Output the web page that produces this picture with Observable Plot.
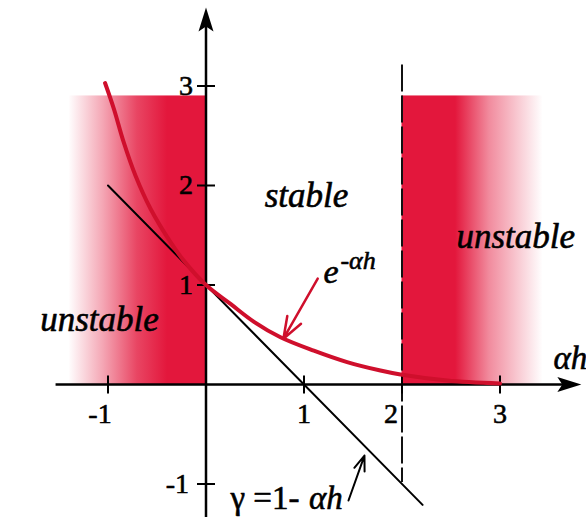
<!DOCTYPE html>
<html>
<head>
<meta charset="utf-8">
<script src="https://cdn.jsdelivr.net/npm/d3@7"></script>
<script src="https://cdn.jsdelivr.net/npm/@observablehq/plot@0.6"></script>
<style>
  html, body { margin: 0; padding: 0; background: #fff; }
  svg { display: block; overflow: visible; }
  svg text { font-family: "Liberation Serif", "Times New Roman", "DejaVu Serif", serif; }
</style>
</head>
<body>
<div id="chart"></div>
<script>
// Amplification factor of the explicit Euler step: exact decay e^{-αh}
// versus the linear factor γ = 1 - αh, with the unstable ranges shaded.

// exact solution curve e^{-αh}
const curveX = [-1.03, -0.94, -0.84, -0.72, -0.566, -0.362, -0.227, 0, 0.25, 0.49, 0.76, 1.1, 1.44, 1.78, 1.985, 2.46, 3.0];
const curveY = [3.03, 2.77, 2.435, 2.10, 1.766, 1.43, 1.245, 1.0, 0.81, 0.63, 0.475, 0.34, 0.225, 0.14, 0.10, 0.04, 0.01];

// straight line γ = 1 - αh
const lineX = [-1, 2.21];
const lineY = [2, -1.21];

// shaded unstable bands (left fades in, right fades out)
const bandX1 = [-1.4, 2];
const bandX2 = [0, 3.44];
const bandTop = [2.9, 2.9];
const bandGradient = ["fadeIn", "fadeOut"];

// stability limit αh = 2
const limitX = [2];
const limitY1 = [3.21];
const limitY2 = [-0.985];

// axis ticks and their labels
const xTicks = [-1, 1, 2, 3];
const xTickLabels = ["-1", "1", "2", "3"];
const yTicks = [-1, 1, 2, 3];
const yTickLabels = ["-1", "1", "2", "3"];

// axis extents
const xAxisFrom = -1.53, xAxisTo = 3.83;
const yAxisFrom = -1.34, yAxisTo = 3.79;

// annotations
const regionLabels = [
  {x: 1.026, y: 1.90, text: "stable"},
  {x: 3.16, y: 1.487, text: "unstable"},
  {x: -1.087, y: 0.653, text: "unstable"}
];

const RED = "#e3173c";
const CURVE = "#cf0f2c";
const SERIF = "'Liberation Serif', 'Times New Roman', 'DejaVu Serif', serif";

const curve = curveX.map((x, i) => ({x, y: curveY[i]}));
const gammaLine = lineX.map((x, i) => ({x, y: lineY[i]}));
const bands = bandX1.map((x1, i) => ({x1, x2: bandX2[i], y1: 0, y2: bandTop[i], g: bandGradient[i]}));
const limits = limitX.map((x, i) => ({x, y1: limitY1[i], y2: limitY2[i]}));
const xTickData = xTicks.map((x, i) => ({x, label: xTickLabels[i]}));
const yTickData = yTicks.map((y, i) => ({y, label: yTickLabels[i]}));

// arrowhead pointing up, tip at the origin
const arrowHead = {
  draw(ctx) {
    ctx.moveTo(0, 0);
    ctx.lineTo(7.5, 24);
    ctx.lineTo(0, 19);
    ctx.lineTo(-7.5, 24);
    ctx.closePath();
  }
};
// short crossing tick
const tickMark = {
  draw(ctx) {
    ctx.moveTo(0, -9);
    ctx.lineTo(0, 9);
  }
};

const W = 586, H = 517;
const x0px = 205.5, xUnit = 98;
const y0px = 384, yUnit = 99.5;

// slightly heavy ink for all lettering
const label = {fontFamily: SERIF, fill: "#000", stroke: "#000", strokeWidth: 0.6};

const plot = Plot.plot({
  width: W,
  height: H,
  margin: 0,
  x: {domain: [-x0px / xUnit, (W - x0px) / xUnit], range: [0, W], axis: null},
  y: {domain: [-(H - y0px) / yUnit, y0px / yUnit], range: [H, 0], axis: null},
  style: {background: "white", overflow: "visible", fontFamily: SERIF},
  marks: [
    // unstable bands
    Plot.rect(bands.filter(d => d.g === "fadeIn"), {x1: "x1", x2: "x2", y1: "y1", y2: "y2", fill: RED, className: "band-in"}),
    Plot.rect(bands.filter(d => d.g === "fadeOut"), {x1: "x1", x2: "x2", y1: "y1", y2: "y2", fill: RED, className: "band-out"}),

    // stability limit
    Plot.ruleX(limits, {x: "x", y1: "y1", y2: "y2", stroke: "#111", strokeWidth: 2, strokeDasharray: "27,4"}),

    // axes
    Plot.ruleY([0], {x1: xAxisFrom, x2: xAxisTo - 0.15, stroke: "#000", strokeWidth: 2.5}),
    Plot.ruleX([0], {y1: yAxisFrom, y2: yAxisTo - 0.15, stroke: "#000", strokeWidth: 2.5}),
    Plot.dot([{x: 0, y: yAxisTo}], {x: "x", y: "y", symbol: arrowHead, fill: "#000", stroke: "none"}),
    Plot.dot([{x: xAxisTo, y: 0}], {x: "x", y: "y", symbol: arrowHead, fill: "#000", stroke: "none", rotate: 90}),

    // ticks
    Plot.dot(xTickData, {x: "x", y: 0, symbol: tickMark, fill: "none", stroke: "#000", strokeWidth: 2}),
    Plot.dot(yTickData, {x: 0, y: "y", symbol: tickMark, fill: "none", stroke: "#000", strokeWidth: 2, rotate: 90}),

    // tick labels
    Plot.text(xTickData.filter(d => d.x === 1 || d.x === 3), {x: "x", y: 0, text: "label", dy: 30, fontSize: 28, ...label}),
    Plot.text(xTickData.filter(d => d.x === 2), {x: "x", y: 0, text: "label", dy: 30, dx: -11, fontSize: 28, ...label}),
    Plot.text(xTickData.filter(d => d.x === -1), {x: "x", y: 0, text: "label", dy: 30, dx: -8, fontSize: 28, ...label}),
    Plot.text(yTickData.filter(d => d.y > 0), {x: 0, y: "y", text: "label", dx: -13, textAnchor: "end", fontSize: 28, ...label}),
    Plot.text(yTickData.filter(d => d.y < 0), {x: 0, y: "y", text: "label", dx: -17, textAnchor: "end", fontSize: 28, ...label}),

    // γ = 1 - αh
    Plot.line(gammaLine, {x: "x", y: "y", stroke: "#000", strokeWidth: 2}),

    // e^{-αh}
    Plot.line(curve, {x: "x", y: "y", stroke: CURVE, strokeWidth: 4, curve: "catmull-rom"}),

    // region labels
    Plot.text(regionLabels, {x: "x", y: "y", text: "text", fontSize: 35, fontStyle: "italic", ...label}),

    // curve label with pointer
    Plot.text([{x: 1.199, y: 1.126}], {x: "x", y: "y", text: () => "e", textAnchor: "start", fontSize: 34, fontStyle: "italic", ...label}),
    Plot.text([{x: 1.372, y: 1.24}], {x: "x", y: "y", text: () => "-αh", textAnchor: "start", fontSize: 26, fontStyle: "italic", ...label}),
    Plot.arrow([{x1: 1.14, y1: 1.065, x2: 0.79, y2: 0.46}], {x1: "x1", y1: "y1", x2: "x2", y2: "y2", stroke: CURVE, strokeWidth: 2.5, headLength: 15, headAngle: 40}),

    // line label with pointer
    Plot.text([{x: 0.25, y: -1.146}], {x: "x", y: "y", text: () => "γ =1-", textAnchor: "start", fontSize: 33, ...label}),
    Plot.text([{x: 1.05, y: -1.146}], {x: "x", y: "y", text: () => "αh", textAnchor: "start", fontSize: 33, fontStyle: "italic", ...label}),
    Plot.arrow([{x1: 1.454, y1: -1.166, x2: 1.617, y2: -0.714}], {x1: "x1", y1: "y1", x2: "x2", y2: "y2", stroke: "#000", strokeWidth: 2, headLength: 13, headAngle: 40}),

    // horizontal axis label
    Plot.text([{x: 3.546, y: 0.26}], {x: "x", y: "y", text: () => "αh", textAnchor: "start", fontSize: 33, fontStyle: "italic", ...label})
  ]
});

// gradients for the shaded bands
const ns = "http://www.w3.org/2000/svg";
const defs = document.createElementNS(ns, "defs");
function gradient(id, stops) {
  const g = document.createElementNS(ns, "linearGradient");
  g.setAttribute("id", id);
  g.setAttribute("x1", "0"); g.setAttribute("x2", "1");
  g.setAttribute("y1", "0"); g.setAttribute("y2", "0");
  for (const [offset, opacity] of stops) {
    const s = document.createElementNS(ns, "stop");
    s.setAttribute("offset", offset);
    s.setAttribute("stop-color", RED);
    s.setAttribute("stop-opacity", opacity);
    g.appendChild(s);
  }
  defs.appendChild(g);
}
gradient("fadeIn", [[0, 0], [0.25, 0.38], [0.5, 0.8], [0.72, 1], [1, 1]]);
gradient("fadeOut", [[0, 1], [0.38, 1], [0.62, 0.5], [1, 0]]);
plot.insertBefore(defs, plot.firstChild);
plot.querySelectorAll(".band-in rect").forEach(r => r.setAttribute("fill", "url(#fadeIn)"));
plot.querySelectorAll(".band-out rect").forEach(r => r.setAttribute("fill", "url(#fadeOut)"));
plot.querySelectorAll(".band-in, .band-out").forEach(g => g.setAttribute("fill", "none"));

document.getElementById("chart").appendChild(plot);
</script>
</body>
</html>
